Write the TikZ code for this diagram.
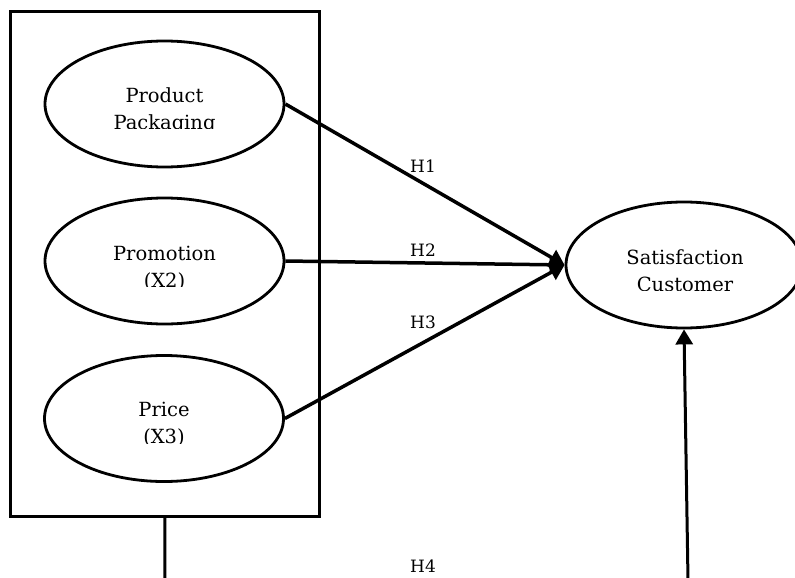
\documentclass[tikz,border=0pt]{standalone}
\usepackage{fontspec}
\setmainfont{DejaVu Serif}
\usetikzlibrary{arrows.meta,shapes.geometric}
\begin{document}
\begin{tikzpicture}[x=1pt,y=-1pt,
  ell/.style={draw,ellipse,line width=2.8pt,inner sep=0pt,minimum width=239pt,minimum height=126pt},
  lbl/.style={anchor=base,inner sep=0pt,font=\fontsize{19.5}{27}\selectfont},
  hlbl/.style={inner sep=0pt,font=\fontsize{17}{22}\selectfont},
  conn/.style={line width=3.5pt,-{Triangle[length=15pt,width=17pt]}},
  vconn/.style={line width=3pt,-{Triangle[length=15pt,width=17pt]}}]
\useasboundingbox (0,0) rectangle (795,578);
\clip (0,0) rectangle (795,578);
% frame
\node[draw,line width=3pt,inner sep=0pt,minimum width=308.5pt,minimum height=504.5pt] (frame) at (164.9,263.9) {};
% ellipses
\node[ell] (pp) at (164.5,104) {};
\node[ell] (pr) at (164.5,261) {};
\node[ell] (pc) at (164,418.5) {};
\node[ell,minimum width=236pt] (sc) at (684,265) {};
% texts
\node[lbl] (pp1) at (164.5,102) {Product};
\begin{scope}\clip (0,108) rectangle (330,128.3);
\node[lbl] (pp2) at (164.5,129) {Packaging};\end{scope}
\node[lbl] (pr1) at (164.5,260) {Promotion};
\begin{scope}\clip (0,266) rectangle (330,286.6);
\node[lbl] (pr2) at (164.5,287) {(X2)};\end{scope}
\node[lbl] (pc1) at (164,416.7) {Price};
\begin{scope}\clip (0,423) rectangle (330,443);
\node[lbl] (pc2) at (164,443.7) {(X3)};\end{scope}
\node[lbl] (sc1) at (685,264) {Satisfaction};
\begin{scope}\clip (560,270) rectangle (795,290);
\node[lbl] (sc2) at (685,291) {Customer};\end{scope}
% connectors
\draw[conn] (pp.east) -- (sc.west);
\draw[conn] (pr.east) -- (sc.west);
\draw[conn] (pc.east) -- (sc.west);
\coordinate (fb) at (frame.south);
\coordinate (fbe) at (165,580);
\draw[line width=3pt] (fb) -- (fbe);
\coordinate (ab) at (688,580);
\draw[vconn] (ab) -- (sc.south);
% hypothesis labels
\node[hlbl] (h1) at (423,166) {H1};
\node[hlbl] (h2) at (423,250.5) {H2};
\node[hlbl] (h3) at (423,322) {H3};
\node[hlbl] (h4) at (423,566) {H4};
\end{tikzpicture}
\end{document}
